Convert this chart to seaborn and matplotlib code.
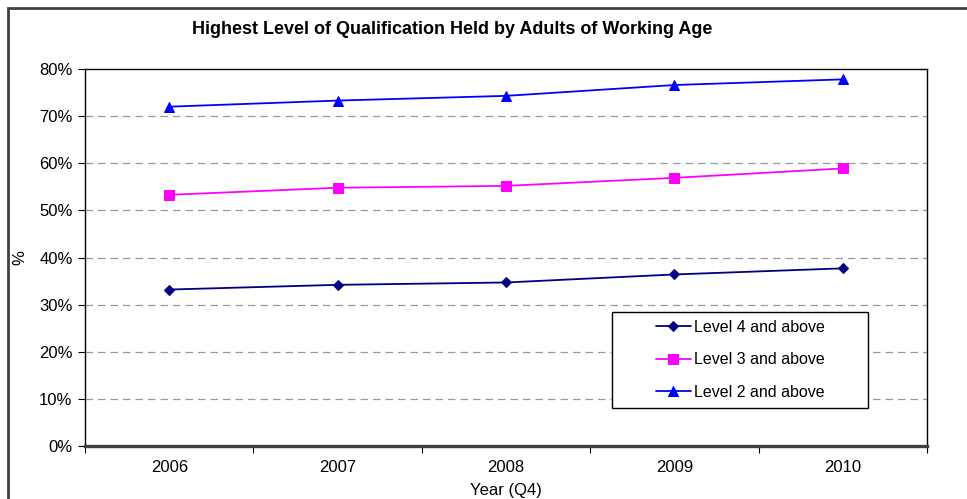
import pandas as pd
import numpy as np
import matplotlib
matplotlib.use('Agg')
import matplotlib.pyplot as plt
import matplotlib.ticker as mticker
from matplotlib.patches import Rectangle
import seaborn as sns

years = ['2006', '2007', '2008', '2009', '2010']
level4 = [33.2, 34.2, 34.7, 36.4, 37.7]
level3 = [53.3, 54.8, 55.2, 56.9, 58.9]
level2 = [72.0, 73.3, 74.3, 76.6, 77.8]
series_names = ['Level 4 and above', 'Level 3 and above', 'Level 2 and above']
colours = ['#000080', '#FF00FF', '#0000FF']
markers = ['D', 's', '^']
marker_sizes = [5, 7, 7]


def main():
    sns.set_style('white')
    plt.rcParams['font.family'] = ['Liberation Sans', 'DejaVu Sans']
    for key in ['text.color', 'axes.labelcolor', 'xtick.color', 'ytick.color']:
        plt.rcParams[key] = '#000000'

    rows = []
    for name, vals in zip(series_names, [level4, level3, level2]):
        for i, v in enumerate(vals):
            rows.append({'pos': i, 'year': years[i], 'series': name, 'value': v})
    df = pd.DataFrame(rows)

    fig = plt.figure(figsize=(9.67, 4.99), dpi=100)
    ax = fig.add_axes([85 / 967, 1 - 446 / 499, (927 - 85) / 967, (446 - 69) / 499])

    for name, col, mk, ms in zip(series_names, colours, markers, marker_sizes):
        sub = df[df['series'] == name]
        sns.lineplot(data=sub, x='pos', y='value', color=col, marker=mk,
                     markersize=ms, markeredgecolor=col, linewidth=1.3,
                     label=name, ax=ax)

    ax.set_xlim(-0.5, 4.5)
    ax.set_ylim(0, 80)
    ax.yaxis.set_major_locator(mticker.MultipleLocator(10))
    ax.yaxis.set_major_formatter(mticker.PercentFormatter(xmax=100, decimals=0))
    ax.set_xticks(range(len(years)))
    ax.set_xticklabels(years)
    ax.set_xticks(np.arange(-0.5, len(years), 1.0), minor=True)
    ax.tick_params(axis='x', which='major', length=0, pad=10, labelsize=12)
    ax.tick_params(axis='x', which='minor', length=5, width=0.8, color='#000000',
                   direction='out', bottom=True)
    ax.tick_params(axis='y', length=5, width=0.8, color='#000000', direction='out',
                   left=True, labelsize=12, pad=4)

    for v in range(10, 80, 10):
        ax.axhline(v, color='#999999', linestyle=(0, (6, 4)), linewidth=0.9, zorder=0)

    for side in ['top', 'right', 'left']:
        ax.spines[side].set_color('#000000')
        ax.spines[side].set_linewidth(1.0)
    ax.spines['bottom'].set_color('#404040')
    ax.spines['bottom'].set_linewidth(2.4)

    ax.set_xlabel('Year (Q4)', fontsize=12)
    ax.set_ylabel('%', fontsize=12)
    ax.yaxis.set_label_coords(-0.068, 0.5)
    ax.xaxis.set_label_coords(0.5, -0.097)

    fig.text(452 / 967, 1 - 30 / 499, 'Highest Level of Qualification Held by Adults of Working Age',
             ha='center', va='center', fontsize=13, fontweight='bold')

    # legend box drawn separately so the padding matches the reference
    leg = ax.legend(loc='center', bbox_to_anchor=((740.5 - 85) / 842, (446 - 360) / 377),
                    frameon=False, fontsize=11.5, handlelength=2.2,
                    labelspacing=1.1, handletextpad=0.2, borderaxespad=0)
    ax.add_patch(Rectangle(((612 - 85) / 842, (446 - 408) / 377), 256 / 842, 96 / 377,
                           transform=ax.transAxes, fill=True, facecolor='white',
                           edgecolor='#000000', linewidth=1.0, zorder=4))
    leg.set_zorder(5)

    fig.patches.append(Rectangle((8 / 967, -0.1), 1.2, 1 - 8 / 499 + 0.1,
                                 transform=fig.transFigure, fill=False,
                                 edgecolor='#404040', linewidth=2.0))

    fig.savefig('out.png', dpi=100)


if __name__ == '__main__':
    main()
